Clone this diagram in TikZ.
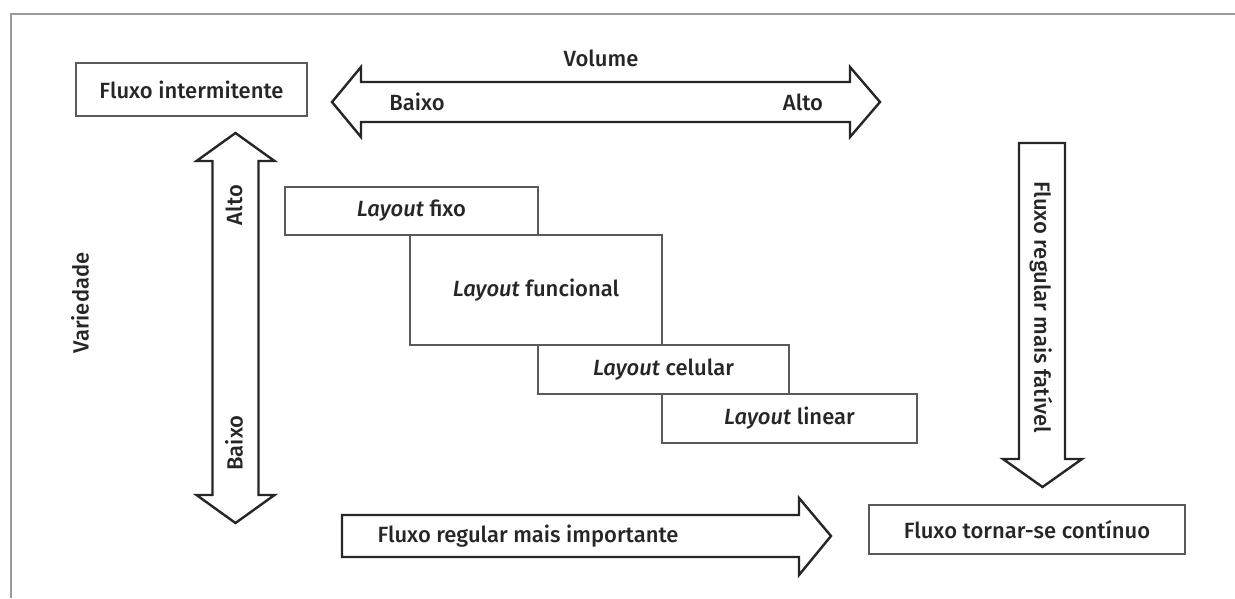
\documentclass[tikz,border=0pt]{standalone}
\usepackage{fontspec}
\setmainfont{Fira Sans}[UprightFont={* Medium}, ItalicFont={* Medium Italic}]
\definecolor{ink}{HTML}{262626}
\definecolor{frame}{HTML}{9A9A9A}
\definecolor{boxline}{HTML}{5A5A5A}
\begin{document}
\begin{tikzpicture}[x=1pt,y=-1pt,
  txt/.style={text=ink,font=\fontsize{22}{24}\selectfont,inner sep=0pt},
  layoutbox/.style={draw=boxline,line width=1.2pt,inner sep=0pt,outer sep=0pt,text=ink,font=\fontsize{22}{24}\selectfont},
  flowbox/.style={draw=boxline,line width=1.5pt,inner sep=0pt,outer sep=0pt,text=ink,font=\fontsize{22}{24}\selectfont},
  blockarrow/.style={draw=ink,line width=2.4pt,line join=miter,fill=white}]
\useasboundingbox[fill=white] (0,0) rectangle (1235,598);

% outer frame (top and left edges)
\draw[frame,line width=1.6pt] (11,598) -- (11,14) -- (1235,14);

% volume axis: double arrow
\draw[blockarrow] (332,102) -- (361,67) -- (361,82) -- (850,82) -- (850,67) -- (880,102)
  -- (850,137) -- (850,122) -- (361,122) -- (361,137) -- cycle;
\node[txt] (volume) at (601,58) {Volume};
\node[txt] (vlow) at (417,102) {Baixo};
\node[txt] (vhigh) at (803,102) {Alto};

% variety axis: vertical double arrow
\draw[blockarrow] (235.5,133) -- (274.5,161) -- (258.5,161) -- (258.5,495) -- (274.5,495) -- (235.5,523)
  -- (196.5,495) -- (212.5,495) -- (212.5,161) -- (196.5,161) -- cycle;
\node[txt,rotate=90] (varhigh) at (234,205) {Alto};
\node[txt,rotate=90] (varlow) at (234,443) {Baixo};
\node[txt,rotate=90] (variety) at (80,303) {Variedade};

% flow boxes
\node[flowbox,minimum width=231pt,minimum height=53pt] (intermit) at (191.5,89.5) {Fluxo intermitente};
\node[flowbox,minimum width=316pt,minimum height=49pt] (contin) at (1027,529.5) {Fluxo tornar-se contínuo};

% layout staircase
\node[layoutbox,minimum width=253pt,minimum height=48pt] (fixo) at (411.5,211) {\textit{Layout} fixo};
\node[layoutbox,minimum width=252pt,minimum height=110pt] (funcional) at (536,290) {\textit{Layout} funcional};
\node[layoutbox,minimum width=251pt,minimum height=49pt] (celular) at (663.5,369.5) {\textit{Layout} celular};
\node[layoutbox,minimum width=255pt,minimum height=49pt] (linear) at (789.5,418.5) {\textit{Layout} linear};

% regular flow becoming feasible: downward arrow
\draw[blockarrow] (1019,143) -- (1065,143) -- (1065,459) -- (1082,459) -- (1042.5,487)
  -- (1003,459) -- (1019,459) -- cycle;
\node[txt,rotate=-90] (feasible) at (1041,307) {Fluxo regular mais fatível};

% regular flow more important: rightward arrow
\draw[blockarrow] (342,515) -- (799,515) -- (799,498) -- (831,536) -- (799,575)
  -- (799,557) -- (342,557) -- cycle;
\node[txt] (important) at (528,536) {Fluxo regular mais importante};
\end{tikzpicture}
\end{document}
